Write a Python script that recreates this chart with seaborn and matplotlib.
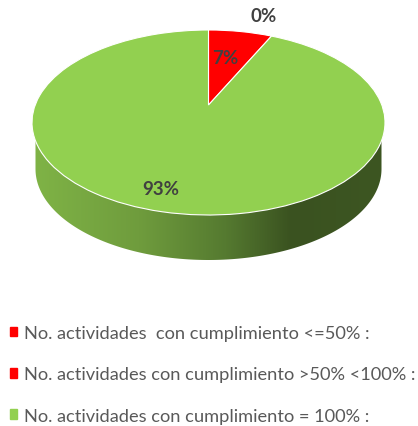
import numpy as np
import seaborn as sns
import matplotlib.pyplot as plt
from matplotlib.colors import LinearSegmentedColormap
from matplotlib.patches import Patch, Polygon
from matplotlib.transforms import Transform

values = [0, 7, 93]
labels = ['No. actividades  con cumplimiento <=50% :',
          'No. actividades con cumplimiento >50% <100% :',
          'No. actividades con cumplimiento = 100% :']
colors = ['#ff0000', '#ff0000', '#92d050']
label_pos = [(264, 16.5), (225, 58), (161, 189.5)]

sns.set_theme(style='white')
plt.rcParams['font.family'] = ['Lato', 'DejaVu Sans']


class Tilt(Transform):
    # tilted disc: unit circle of the pie to pixels, near edge looks bigger
    input_dims = output_dims = 2

    def transform_non_affine(self, xy):
        xy = np.asarray(xy)
        w = 1 + 0.1892 * xy[:, 1]
        return np.column_stack((208.5 + 173.3 * xy[:, 0] / w, 106 - 89.2 * xy[:, 1] / w))


fig = plt.figure(figsize=(4.18, 4.27), dpi=100)
ax = fig.add_axes([0, 0, 1, 1])

wedges, _ = ax.pie(values, colors=colors, startangle=90, counterclock=False,
                   wedgeprops={'edgecolor': 'white', 'linewidth': 0.8})
ax.set_aspect('auto')
ax.axis('off')

tilt = Tilt() + ax.transData
for w in wedges:
    w.set_transform(tilt)
    w.set_zorder(3)

# side wall of the disc, horizontal gradient clipped to the rim
side = LinearSegmentedColormap.from_list('side', [(0, '#7fb346'), (0.3, '#6f9c3d'), (0.55, '#557a30'),
                                                  (0.74, '#3a5220'), (1, '#3d5622')])
t = np.linspace(np.pi, 2 * np.pi, 200)
rim = np.column_stack((208.5 + 173 * np.cos(t), 170 - 91 * np.sin(t)))
outline = np.vstack(([[35.5, 125]], rim, [[381.5, 125]]))
img = ax.imshow(np.linspace(0, 1, 256)[None, :], cmap=side, aspect='auto',
                extent=(35, 382, 262, 120), zorder=1)
img.set_clip_path(Polygon(outline, transform=ax.transData))
ax.set_xlim(0, 418)
ax.set_ylim(427, 0)

for v, (x, y) in zip(values, label_pos):
    ax.text(x, y, f'{v}%', ha='center', va='center', fontsize=13.5, fontweight='bold',
            color='#404040', zorder=4)

handles = [Patch(color=c) for c in colors]
ax.legend(handles, labels, loc='upper left', bbox_to_anchor=(0.024, 0.236), frameon=False, fontsize=13.15,
          labelcolor='#595959', handlelength=0.4, handleheight=0.4, handletextpad=0.38,
          labelspacing=1.38, borderpad=0, borderaxespad=0)

fig.savefig('out.png', dpi=100)
